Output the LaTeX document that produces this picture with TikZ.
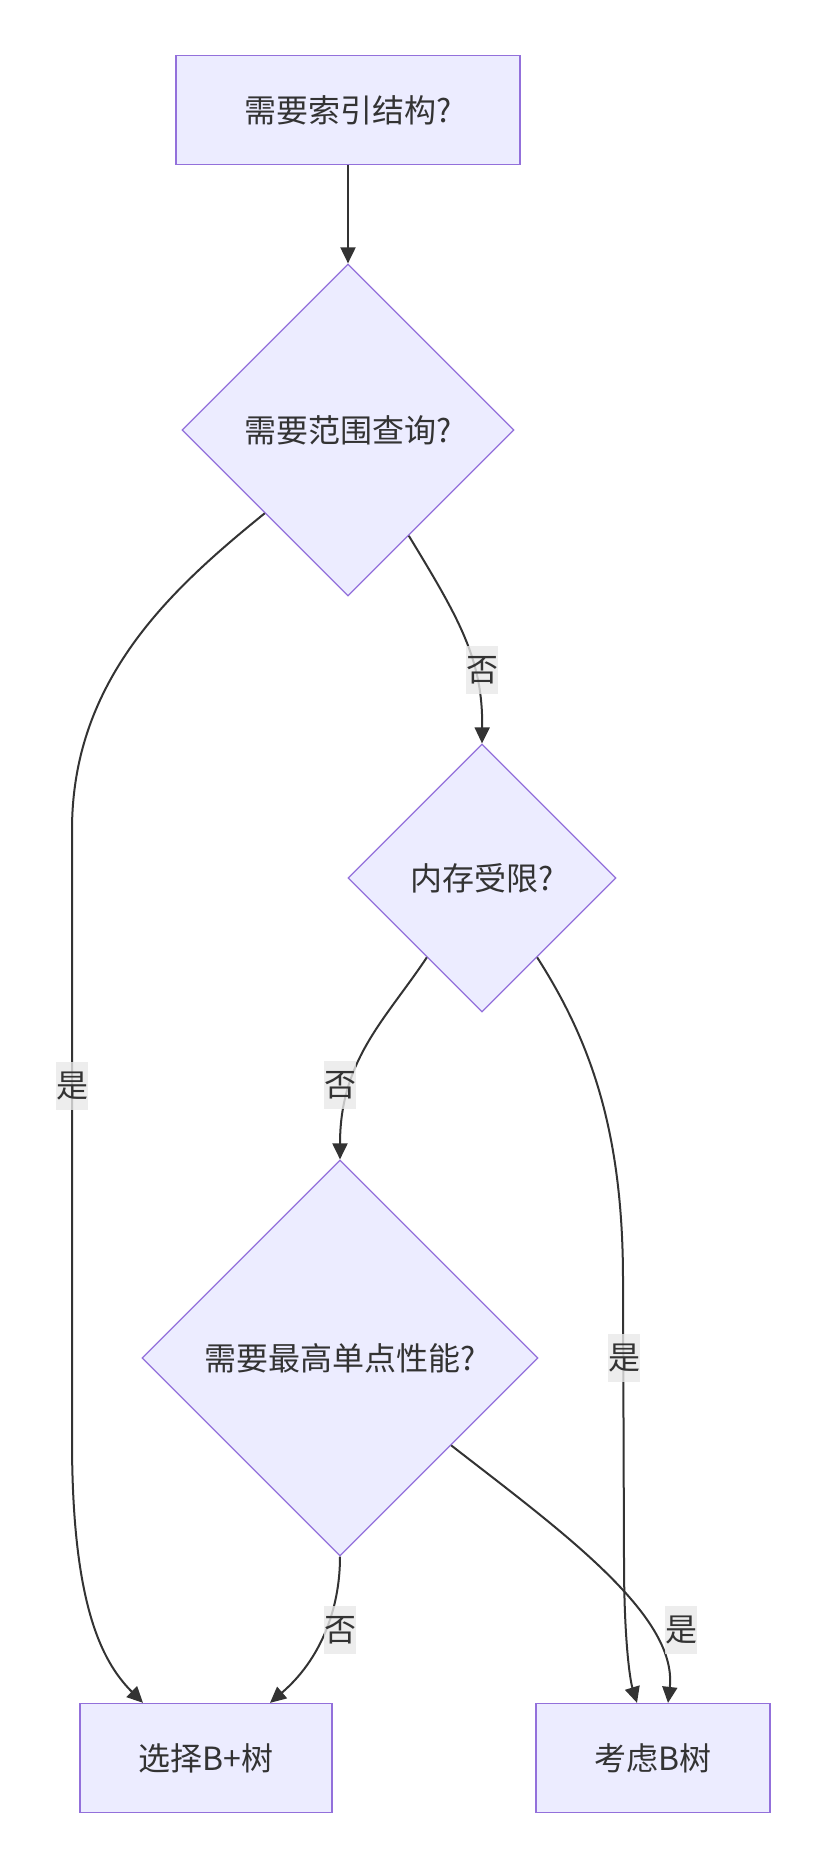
\documentclass[tikz,border=0pt]{standalone}
\usepackage{fontspec}
\setmainfont{Noto Sans CJK SC}
\usepackage{tikz}
\usetikzlibrary{arrows.meta, shapes.geometric, calc}
\definecolor{nodefill}{HTML}{ECECFF}
\definecolor{nodeline}{HTML}{9370DB}
\definecolor{edgeline}{HTML}{333333}
\definecolor{lblfill}{HTML}{E8E8E8}

\begin{document}
\begin{tikzpicture}[x=0.5pt, y=-0.5pt,
  every node/.style={text=edgeline, font=\fontsize{16pt}{19pt}\selectfont},
  box/.style={rectangle, draw=nodeline, fill=nodefill, line width=0.65pt,
    minimum height=54.5pt, inner sep=0pt},
  choice/.style={diamond, draw=nodeline, fill=nodefill, line width=0.6pt, inner sep=0pt},
  flow/.style={draw=edgeline, line width=1pt, -{Triangle[length=8pt, width=7.5pt]}},
  lbl/.style={fill=lblfill, fill opacity=0.8, text opacity=1, inner sep=0pt,
    minimum width=16pt, minimum height=24pt}]
  \useasboundingbox (0,0) rectangle (826,1868);

  % Nodes
  \node[box, minimum width=172pt] (start) at (348,110) {需要索引结构?};
  \node[choice, minimum width=166pt, minimum height=166pt] (q1) at (348,430) {需要范围查询?};
  \node[choice, minimum width=134pt, minimum height=134pt] (q2) at (482,878) {内存受限?};
  \node[choice, minimum width=198pt, minimum height=198pt] (q3) at (340,1358) {需要最高单点性能?};
  \node[box, minimum width=126pt] (bplus) at (206,1758) {选择B+树};
  \node[box, minimum width=117pt] (btree) at (653,1758) {考虑B树};

  % Edges
  \draw[flow] (start) -- (q1);
  \draw[flow] (q1.south west) .. controls (170,590) and (72,680) .. (72,830)
    -- (72,1440) .. controls (72,1600) and (100,1660) .. ($(bplus.north)+(-63,0)$);
  \draw[flow] ($(q1.south east)!0.27!(q1.south)$) .. controls (460,620) and (483,660) .. (q2.north);
  \draw[flow] ($(q2.south west)!0.18!(q2.south)$) .. controls (385,1020) and (340,1060) .. (q3.north);
  \draw[flow] ($(q2.south east)!0.18!(q2.south)$) .. controls (590,1040) and (623,1130) .. (623,1280)
    -- (624,1560) .. controls (624,1640) and (630,1680) .. ($(btree.north)+(-16,0)$);
  \draw[flow] (q3.south) .. controls (340,1610) and (320,1660) .. ($(bplus.north)+(64,0)$);
  \draw[flow] ($(q3.south east)!0.12!(q3.east)$) .. controls (560,1530) and (678,1615) .. ($(btree.north)+(15,0)$);

  % Edge labels
  \node[lbl] (yes1) at (72,1086) {是};
  \node[lbl] (no1) at (482,670) {否};
  \node[lbl] (no2) at (340,1085) {否};
  \node[lbl] (yes2) at (624,1358) {是};
  \node[lbl] (no3) at (340,1630) {否};
  \node[lbl] (yes3) at (681,1630) {是};
\end{tikzpicture}
\end{document}
